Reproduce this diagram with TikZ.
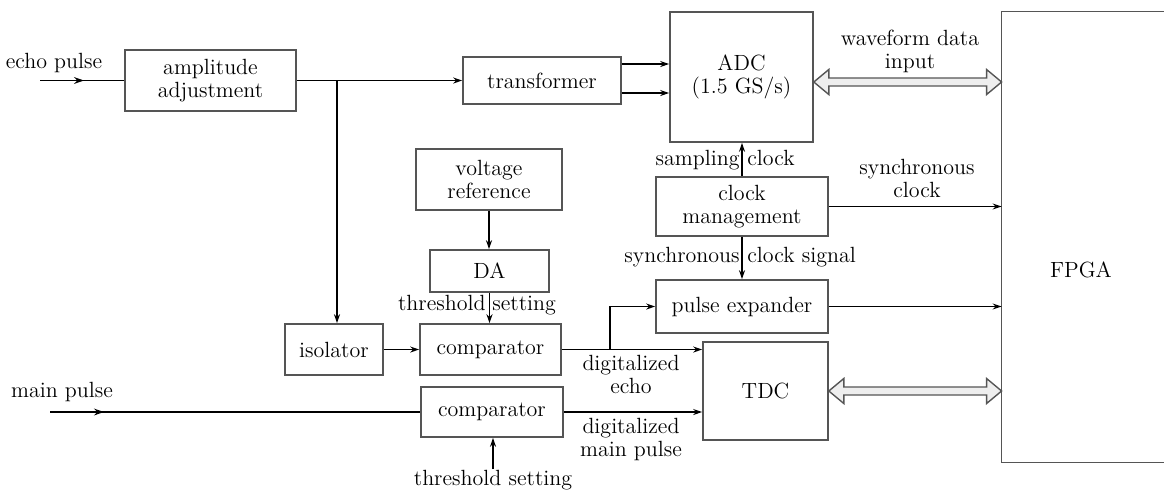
\documentclass[tikz,border=0pt]{standalone}
\usetikzlibrary{arrows.meta,calc}
\definecolor{boxline}{HTML}{555555}
\definecolor{dblfill}{HTML}{EEEEEE}
\begin{document}
\begin{tikzpicture}[x=0.5pt,y=-0.5pt,
  every node/.style={font=\fontsize{11}{11.5}\selectfont, inner sep=0pt},
  blk/.style={draw=boxline, line width=0.8pt, fill=white, align=center},
  conn/.style={line width=0.6pt, -{Stealth[length=4.5pt,width=3pt]}},
  wire/.style={line width=0.6pt},
  inarr/.style={line width=0.9pt, -{Stealth[length=5pt,width=3.4pt]}},
  lbl/.style={align=center},
  dblarr/.style={draw=boxline, line width=0.7pt, fill=dblfill, line join=miter}
]
\useasboundingbox (0,0) rectangle (1164,489);
\clip (0,0) rectangle (1164,489);

% blocks
\node[blk, minimum width=85.5pt, minimum height=30.5pt] (amp) at (210.5,80.5) {amplitude\\adjustment};
\node[blk, minimum width=79pt, minimum height=23.5pt] (trans) at (542,80.5) {transformer};
\node[blk, minimum width=71.5pt, minimum height=65pt] (adc) at (741.5,77) {ADC\\(1.5 GS/s)};
\node[blk, minimum width=86pt, minimum height=29.5pt] (clk) at (742,206.5) {clock\\management};
\node[blk, minimum width=86pt, minimum height=26.5pt] (pexp) at (742,306.5) {pulse expander};
\node[blk, minimum width=73pt, minimum height=30.5pt] (vref) at (489,179.5) {voltage\\reference};
\node[blk, minimum width=59.5pt, minimum height=21pt] (da) at (489.5,271) {DA};
\node[blk, minimum width=70.5pt, minimum height=25.5pt] (cmpa) at (490.5,349.5) {comparator};
\node[blk, minimum width=49pt, minimum height=25.5pt] (iso) at (334,349.5) {isolator};
\node[blk, minimum width=71pt, minimum height=25pt] (cmpb) at (492,412) {comparator};
\node[blk, minimum width=62.5pt, minimum height=49pt] (tdc) at (765.5,391) {TDC};

% FPGA block, running past the right edge
\node[minimum width=89pt, minimum height=225pt] (fpga) at (1091,237) {};
\draw[draw=boxline, line width=0.8pt] (fpga.north east) -- (fpga.north west) -- (fpga.south west) -- (fpga.south east);
\node (fpgatxt) at (1081,270) {FPGA};

% echo pulse input
\coordinate (ein) at (40,80.5);
\node[lbl] (echolbl) at (54,63) {echo pulse};
\draw[wire] (ein) -- (amp.west);
\draw[inarr] (ein) -- ++(44,0);

% amplitude adjustment -> transformer, branch to isolator
\coordinate (bra) at (337,80.5);
\draw[conn] (amp.east) -- (trans.west);
\draw[conn] (bra) -- (bra |- iso.north);

% transformer -> ADC (two lines)
\draw[conn] (trans.east |- 0,64) -- (adc.west |- 0,64);
\draw[conn] (trans.east |- 0,93) -- (adc.west |- 0,93);

% ADC <-> FPGA
\draw[dblarr] let \p1=(adc.east |- 0,82), \p2=(fpga.west |- 0,82) in
  (\p1) -- ++(7.5pt,6.25pt) -- ++(0,-4.25pt) -- (\x2-7.5pt,\y1+2pt) -- ++(0,4.25pt)
  -- (\p2) -- ++(-7.5pt,-6.25pt) -- ++(0,4.25pt) -- (\x1+7.5pt,\y1-2pt) -- ++(0,-4.25pt) -- cycle;
\node[lbl] (wflbl) at (910,51) {waveform data\\input};

% clock management
\draw[conn] (clk.north) -- (clk.north |- adc.south);
\node[anchor=base east] (sampl) at (740,165) {sampling};
\node[anchor=base west] (sampr) at (747,165) {clock};
\draw[conn] (clk.east) -- (clk.east -| fpga.west);
\node[lbl] (synclbl) at (917,178) {synchronous\\clock};
\draw[conn] (clk.south) -- (pexp.north);
\node[anchor=base east] (scsl) at (740,262) {synchronous};
\node[anchor=base west] (scsr) at (747,262) {clock signal};
\draw[conn] (pexp.east) -- (pexp.east -| fpga.west);

% threshold path
\draw[conn] (vref.south) -- (vref.south |- da.north);
\draw[conn] (da.south) -- (da.south |- cmpa.north);
\node[anchor=base east] (thl) at (486,310) {threshold};
\node[anchor=base west] (thr) at (492,310) {setting};

% echo comparator
\draw[conn] (iso.east) -- (iso.east -| cmpa.west);
\draw[conn] (cmpa.east) -- (cmpa.east -| tdc.west);
\coordinate (brb) at (610,349.5);
\draw[conn] (brb) |- (pexp.west);
\node[lbl] (delbl) at (631,374) {digitalized\\echo};

% main pulse path
\coordinate (min) at (50,412);
\node[lbl] (mainlbl) at (62,392) {main pulse};
\draw[wire] (min) -- (cmpb.west);
\draw[inarr] (min) -- ++(54,0);
\draw[conn] (cmpb.east) -- (cmpb.east -| tdc.west);
\node[lbl] (dmlbl) at (631,439) {digitalized\\main pulse};
\coordinate (thb) at (493,469);
\draw[conn] (thb) -- (thb |- cmpb.south);
\node[anchor=base] (thblbl) at (493,485) {threshold setting};

% TDC <-> FPGA
\draw[dblarr] let \p1=(tdc.east |- 0,391), \p2=(fpga.west |- 0,391) in
  (\p1) -- ++(7.5pt,6.25pt) -- ++(0,-4.25pt) -- (\x2-7.5pt,\y1+2pt) -- ++(0,4.25pt)
  -- (\p2) -- ++(-7.5pt,-6.25pt) -- ++(0,4.25pt) -- (\x1+7.5pt,\y1-2pt) -- ++(0,-4.25pt) -- cycle;
\end{tikzpicture}
\end{document}
